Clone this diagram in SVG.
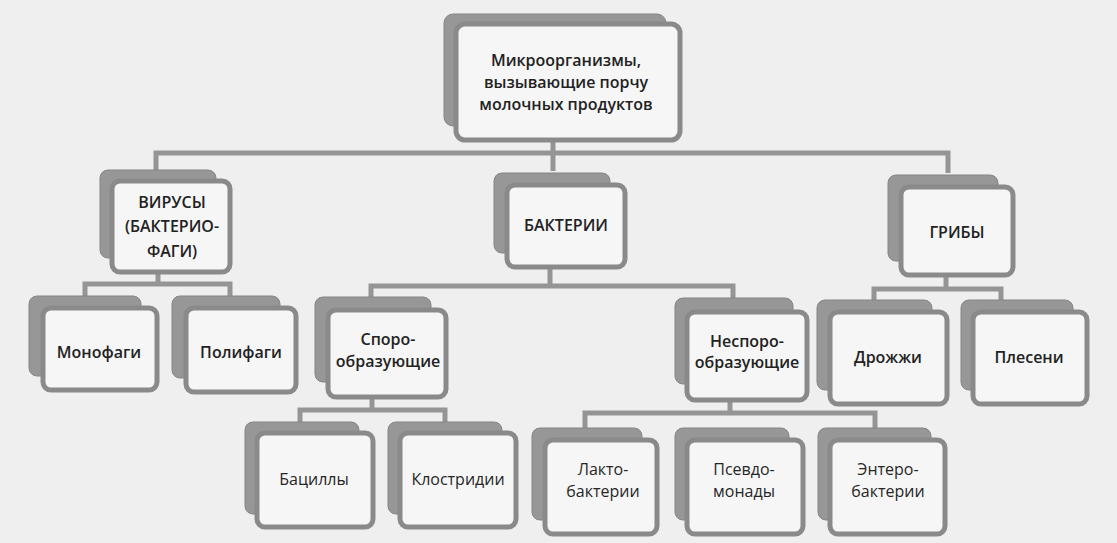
<svg xmlns="http://www.w3.org/2000/svg" width="1117" height="543" viewBox="0 0 1117 543">
<style>
.bg{fill:#efefef}
.back{fill:#979797;stroke:#858585;stroke-width:1}
.front{fill:#f6f6f6;stroke:#8a8a8a;stroke-width:5}
.con{fill:none;stroke:#959595;stroke-width:5;stroke-linejoin:miter}
.b{font-family:"Open Sans","Liberation Sans",sans-serif;font-weight:600;font-size:16px;fill:#222222;text-anchor:middle}
.r{font-family:"Open Sans","Liberation Sans",sans-serif;font-weight:400;font-size:16px;fill:#262626;text-anchor:middle}
</style>
<rect class="bg" x="0" y="0" width="1117" height="543"/>
<g id="connectors">
<path class="con" d="M553,142 V171 M156,170 V153 H948 V173"/>
<path class="con" d="M158,272 V284 M85,296 V284 H230 V296"/>
<path class="con" d="M550,267 V286 M371,297 V286 H733 V298"/>
<path class="con" d="M946,275 V289 M874,300 V289 H1001 V300"/>
<path class="con" d="M372,397 V410 M300,422 V410 H445 V422"/>
<path class="con" d="M730,400 V413 M585,428 V413 H875 V428"/>
</g>
<g id="n-root">
<rect class="back" x="444" y="14" width="222" height="112" rx="9"/>
<rect class="front" x="456" y="24" width="224" height="116" rx="9"/>
<text class="b" x="566" y="66">Микроорганизмы,</text>
<text class="b" x="566" y="88">вызывающие порчу</text>
<text class="b" x="566" y="110">молочных продуктов</text>
</g>
<g id="n-viruses">
<rect class="back" x="100" y="170" width="116" height="88" rx="8"/>
<rect class="front" x="112" y="181" width="118" height="91" rx="8"/>
<text class="b" x="172" y="208">ВИРУСЫ</text>
<text class="b" x="172" y="232">(БАКТЕРИО-</text>
<text class="b" x="172" y="257">ФАГИ)</text>
</g>
<g id="n-bacteria">
<rect class="back" x="494" y="173" width="116" height="80" rx="8"/>
<rect class="front" x="507" y="185" width="118" height="82" rx="8"/>
<text class="b" x="566" y="231">БАКТЕРИИ</text>
</g>
<g id="n-fungi">
<rect class="back" x="888" y="175" width="110" height="86" rx="8"/>
<rect class="front" x="901" y="187" width="112" height="88" rx="8"/>
<text class="b" x="957" y="238">ГРИБЫ</text>
</g>
<g id="n-monophages">
<rect class="back" x="29" y="296" width="112" height="80" rx="8"/>
<rect class="front" x="43" y="308" width="114" height="82" rx="8"/>
<text class="b" x="99" y="358">Монофаги</text>
</g>
<g id="n-polyphages">
<rect class="back" x="172" y="296" width="108" height="82" rx="8"/>
<rect class="front" x="186" y="308" width="110" height="84" rx="8"/>
<text class="b" x="241" y="358">Полифаги</text>
</g>
<g id="n-spore">
<rect class="back" x="315" y="297" width="116" height="85" rx="8"/>
<rect class="front" x="328" y="310" width="118" height="87" rx="8"/>
<text class="b" x="388" y="345">Споро-</text>
<text class="b" x="388" y="367">образующие</text>
</g>
<g id="n-nonspore">
<rect class="back" x="675" y="298" width="118" height="86" rx="8"/>
<rect class="front" x="687" y="312" width="120" height="88" rx="8"/>
<text class="b" x="747" y="347">Неспоро-</text>
<text class="b" x="747" y="368">образующие</text>
</g>
<g id="n-yeast">
<rect class="back" x="817" y="300" width="115" height="90" rx="8"/>
<rect class="front" x="830" y="312" width="117" height="92" rx="8"/>
<text class="b" x="888" y="363">Дрожжи</text>
</g>
<g id="n-mould">
<rect class="back" x="961" y="300" width="112" height="90" rx="8"/>
<rect class="front" x="973" y="312" width="114" height="92" rx="8"/>
<text class="b" x="1029" y="363">Плесени</text>
</g>
<g id="n-bacilli">
<rect class="back" x="245" y="422" width="114" height="92" rx="8"/>
<rect class="front" x="257" y="433" width="116" height="94" rx="8"/>
<text class="r" x="314" y="485">Бациллы</text>
</g>
<g id="n-clostridia">
<rect class="back" x="388" y="422" width="114" height="92" rx="8"/>
<rect class="front" x="400" y="433" width="116" height="94" rx="8"/>
<text class="r" x="458" y="485">Клостридии</text>
</g>
<g id="n-lacto">
<rect class="back" x="532" y="428" width="110" height="92" rx="8"/>
<rect class="front" x="545" y="440" width="112" height="94" rx="8"/>
<text class="r" x="603" y="475">Лакто-</text>
<text class="r" x="603" y="497">бактерии</text>
</g>
<g id="n-pseudo">
<rect class="back" x="675" y="428" width="114" height="92" rx="8"/>
<rect class="front" x="687" y="440" width="116" height="94" rx="8"/>
<text class="r" x="744" y="475">Псевдо-</text>
<text class="r" x="744" y="497">монады</text>
</g>
<g id="n-entero">
<rect class="back" x="818" y="428" width="113" height="92" rx="8"/>
<rect class="front" x="830" y="440" width="115" height="94" rx="8"/>
<text class="r" x="888" y="475">Энтеро-</text>
<text class="r" x="888" y="497">бактерии</text>
</g>
</svg>
